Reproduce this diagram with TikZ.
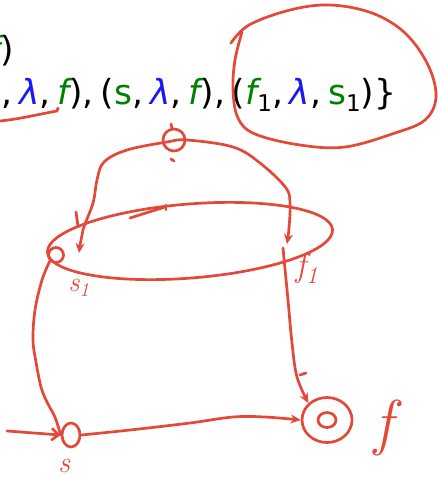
\documentclass[tikz,border=0pt]{standalone}
\usepackage{fontspec}
\newfontfamily\formfont{DejaVu Sans}
\usetikzlibrary{arrows.meta,shapes.geometric}
\definecolor{ink}{RGB}{228,72,56}
\definecolor{symgreen}{RGB}{0,128,0}
\definecolor{symblue}{RGB}{25,25,240}
\newcommand{\Gs}{\textcolor{symgreen}{s}}
\newcommand{\Gf}{\textcolor{symgreen}{\itshape f}}
\newcommand{\Lam}{\textcolor{symblue}{\itshape λ}}
\newcommand{\Sub}[1]{\raisebox{-0.22em}{\fontsize{23}{25}\selectfont #1}}
\newcommand{\Cm}{,\kern0.2em}
\begin{document}
\begin{tikzpicture}[x=1pt,y=-1pt,
  ink/.style={draw=ink, line width=2.7pt, line cap=round, line join=round},
  tipe/.style={-{Stealth[length=10pt,width=9pt]}},
  state/.style={ink, inner sep=0pt},
  lbl/.style={text=ink, inner sep=0pt},
  formula/.style={inner sep=0pt, font=\formfont\fontsize{34.5}{38}\selectfont},
]
\useasboundingbox (0,0) rectangle (437,477);
\begin{scope}
\clip (0,0) rectangle (437,477);
\node[formula, anchor=base east] (line1) at (14,61) {\Gf)};
\node[formula, anchor=base west] (line2) at (1,104) {\Cm\Lam\Cm\Gf)\Cm(\Gs\Cm\Lam\Cm\Gf)\Cm(\Gf\Sub{1}\Cm\Lam\Cm\Gs\Sub{1})\}};
\end{scope}

% underline at left
\coordinate (ul0) at (0,121);
\coordinate (ul1) at (57,111);
\draw[ink] (ul0) .. controls (20,119) and (40,114) .. (ul1) -- (58,108);

% loop around the last triple
\coordinate (lp0) at (231,43);
\draw[ink] plot[smooth, tension=0.6] coordinates {(lp0) (249,25) (290,10) (330,5) (372,13) (405,33) (428,65) (436,97) (425,120) (395,133) (345,147) (300,145) (255,134) (238,118) (233,90) (235,60) (242,32)};

% states
\node[state, circle, minimum size=22pt] (q0) at (174,140) {};
\node[state, ellipse, minimum width=286pt, minimum height=74pt, rotate=4.6] (E) at (190,241) {};
\node[state, circle, minimum size=15pt] (s1) at (56,255) {};
\node[state, ellipse, minimum width=18pt, minimum height=24pt] (s) at (71,435) {};
\node[state, ellipse, minimum width=50pt, minimum height=45pt] (f) at (327,420) {};
\node[state, ellipse, minimum width=18pt, minimum height=15pt] (fin) at (327,420) {};

% small marks
\draw[ink] (171,124) -- (172,128);
\draw[ink] (171,159) -- (174,161);
\draw[ink] (130,218) -- (165,207);
\draw[ink] (166,205) -- (166,210);

% arc over the top through q0
\coordinate (s1in) at (79,253);
\coordinate (f1in) at (287,244);
\draw[ink, {Stealth[length=10pt,width=9pt]}-{Stealth[length=10pt,width=9pt]}] plot[smooth, tension=0.6] coordinates {(s1in) (83,230) (93,203) (97,180) (104,162) (127,150) (167,142) (187,140) (233,147) (260,163) (286,188) (290,205) (289,228) (f1in)};
\draw[ink] (76,212) -- (78,226);

% s1 down to s
\draw[ink] plot[smooth, tension=0.6] coordinates {(s1.south west) (42,280) (35,310) (33,340) (36,362) (41,387) (47,402) (54,415) (58,426) (s.west)};

% start arrow
\coordinate (st) at (7,431);
\draw[ink, -{Straight Barb[length=7pt,width=12pt]}] (st) -- (s.west);

% s to f
\draw[ink, tipe] plot[smooth, tension=0.6] coordinates {(s.east) (130,430) (190,423) (233,417) (265,417) (f.west)};

% f1 down to f
\coordinate (f1out) at (283,248);
\draw[ink, tipe] plot[smooth, tension=0.6] coordinates {(f1out) (288,300) (292,343) (297,377) (f.north west)};
\draw[ink] (300,375) -- (306,373);

% handwritten labels
\node[lbl, font=\fontsize{28}{30}\selectfont\itshape] (ls1) at (79,288) {s\textsubscript{1}};
\node[lbl, font=\fontsize{34}{36}\selectfont\itshape] (lf1) at (307,268) {f\textsubscript{1}};
\node[lbl, font=\fontsize{30}{32}\selectfont\itshape] (ls) at (64,466) {s};
\node[lbl, font=\fontsize{62}{66}\selectfont\itshape] (lf) at (384,428) {f};
\end{tikzpicture}
\end{document}
